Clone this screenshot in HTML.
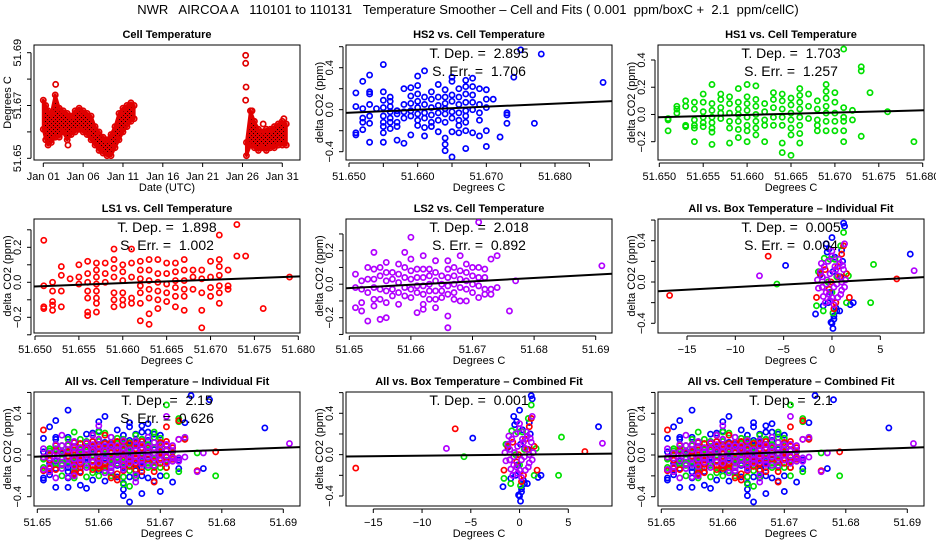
<!DOCTYPE html>
<html><head><meta charset="utf-8"><style>
html,body{margin:0;padding:0;background:#fff;}
svg{display:block;font-family:"Liberation Sans",sans-serif;}
svg text{white-space:pre;}
</style></head><body>
<svg id="chart" width="936" height="540" viewBox="0 0 936 540" xmlns="http://www.w3.org/2000/svg">
<defs>
<pattern id="cellpat" width="4" height="4" patternUnits="userSpaceOnUse">
<rect width="4" height="4" fill="#e00000"/><rect x="1" y="1" width="1" height="1" fill="#000"/><rect x="3" y="3" width="1" height="1" fill="#300"/>
</pattern>
</defs>
<text x="468" y="14" font-size="13" text-anchor="middle">NWR   AIRCOA A   110101 to 110131   Temperature Smoother – Cell and Fits ( 0.001  ppm/boxC +  2.1  ppm/cellC)</text>
</svg>
<script>
// ---- Panel 1: cell temperature time series (band lo/hi by day) ----
const seg1Day=[1.0,1.3,1.6,2.0,2.5,3.0,3.5,4.0,4.5,5.0,5.5,6.0,6.5,7.0,7.5,8.0,8.5,9.0,9.5,10.0,10.5,11.0,11.5,12.0,12.4];
const seg1Lo=[51.661,51.657,51.655,51.656,51.658,51.658,51.660,51.657,51.659,51.660,51.661,51.660,51.659,51.657,51.655,51.653,51.652,51.651,51.651,51.654,51.657,51.660,51.662,51.664,51.665];
const seg1Hi=[51.672,51.670,51.668,51.667,51.674,51.669,51.668,51.667,51.666,51.668,51.669,51.668,51.667,51.666,51.662,51.660,51.658,51.657,51.659,51.662,51.667,51.669,51.670,51.671,51.670];
const seg2Day=[26.5,27.0,27.5,28.0,28.5,29.0,29.5,30.0,30.5,31.0,31.5];
const seg2Lo=[51.651,51.655,51.654,51.653,51.654,51.653,51.654,51.654,51.655,51.655,51.655];
const seg2Hi=[51.656,51.668,51.664,51.661,51.660,51.661,51.661,51.662,51.663,51.664,51.663];
const cellOutDay=[2.55,4.1,26.4,26.4,26.45,26.4,28.6,31.2,27.2];
const cellOutT=[51.678,51.655,51.689,51.686,51.677,51.672,51.663,51.665,51.668];
const dayTicks=[1,6,11,16,21,26,31];
const dayLabels=["Jan 01","Jan 06","Jan 11","Jan 16","Jan 21","Jan 26","Jan 31"];

// ---- Scatter series vs cell temperature: x offset in mK above 51.650, y lists ----
const hs2X=[1,2,3,4,5,6,7,8,9,10,11,12,13,14,15,16,17,18,19,20,21,22,23,24,25,27,28,37];
const hs2Y=[[.16,.03,-.22,-.24],[.27,.01,-.08,-.12,-.19],[.33,.17,.15,.05,-.06,-.13,-.31],[.01],[.43,.17,.09,.02,-.06,-.12,-.16,-.31,-.22],[.12,.08,.03,-.02,-.08,-.12,-.18],[-.01,-.04,-.12,-.16,-.29],[.20,.05,-.02,-.08,-.32],[.21,.13,.06,-.01,-.06,-.24],[.32,.23,.15,.08,.02,-.04,-.10,-.15],[.37,.12,.05,-.03,-.08,-.17,-.25],[.17,.10,.02,-.05,-.12,-.16],[.24,.12,.04,-.03,-.10,-.21],[.19,.12,.06,.01,-.04,-.12,-.27,-.33,-.39],[.31,.27,.14,.08,-.02,-.08,-.21,-.45],[.20,.12,.05,-.03,-.10,-.15,-.22],[.28,.22,.15,.07,-.01,-.06,-.12,-.20,-.37],[.30,.22,.14,.07,0,-.22],[.20,.05,-.03,-.10,-.25],[.19,.10,.02,-.20,-.35],[.10],[-.26],[-.03,-.05,-.13],[.31],[.57],[-.13],[.53],[.26]];
const hs1X=[1,2,3,4,5,6,7,8,9,10,11,12,13,14,15,16,17,18,19,20,21,22,23,24,26,29];
const hs1Y=[[-.03,-.04,-.12],[.06,.04,.01],[.10,.06,-.08,-.09],[.09,.04,-.04,-.08,-.10,-.20],[.15,.09,.02,-.02,-.06,-.09],[.22,.08,.03,-.02,-.06,-.10,-.13,-.22],[.15,.11,.05,.01,-.03],[.13,.08,.01,-.05,-.10,-.21],[.19,.09,.04,0,-.05,-.11,-.17],[.22,.13,.08,.03,-.02,-.08,-.12,-.20],[.21,.11,.06,0,-.05,-.10,-.15],[.08,.02,-.04,-.08,-.20],[.16,.11,.05,-.02,-.08],[.15,.10,.04,-.02,-.08,-.21,-.28],[.12,.07,.01,-.04,-.10,-.15,-.30],[.19,.14,.09,.04,-.02,-.08,-.14,-.21],[.15,.06,-.03],[.10,.04,-.04,-.08,-.12],[.22,.17,.12,.06,.01,-.05,-.12],[.16,.09,.01,-.05,-.12],[.48,.05,-.02,-.05,-.12,-.20],[.03,-.04],[.35,.32,-.16],[.16],[.02],[-.20]];
const ls1X=[1,2,3,4,5,6,7,8,9,10,11,12,13,14,15,16,17,18,19,20,21,22,23,24,26,29];
const ls1Y=[[.24,-.02,-.14,-.15],[0,-.05,-.11,-.13,-.16],[.09,.04,-.05,-.14],[.02],[.10,.03,-.01],[.12,.05,0,-.05,-.09,-.17,-.19],[.11,.07,.03,-.01,-.05,-.09,-.12,-.17],[.11,.05,0],[.19,.13,.08,.03,-.06,-.10,-.14],[.10,.06,.01,-.06,-.10,-.13],[.19,.11,.03,-.09,-.12],[.12,.07,.02,-.02,-.06,-.12,-.22],[.13,.07,.01,-.04,-.09,-.18,-.24],[.13,.05,0,-.05,-.10,-.15],[.11,.05,-.01,-.06,-.11],[.11,.06,.01,-.03,-.08,-.14],[.13,.07,.01,-.04,-.08,-.16],[.07,.03,-.04],[.07,.02,-.06,-.16,-.26],[.12,.03,-.03,-.08],[.27,.13,.09,.04,-.02,-.06,-.12],[.07,-.02,-.04],[.33,.15],[.15],[-.15],[.03]];
const ls2X=[1,2,3,4,5,6,7,8,9,10,11,12,13,14,15,16,17,18,19,20,21,22,23,24,26,27,41];
const ls2Y=[[.06,-.02,-.14],[.02,-.03,-.11,-.16],[.10,.03,-.05,-.22],[.19,.09,.03,-.02,-.09,-.13],[.10,.05,-.03,-.09,-.21],[.13,.07,.02,-.04,-.11,-.20],[.07,.03,-.03,-.07],[.12,.06,.01,-.05,-.12],[.19,.10,.04,-.02,-.07],[.28,.15,.08,.03,-.03,-.08],[.09,.04,-.01,-.05,-.17],[.17,.09,.04,-.01,-.06,-.12,-.15],[.09,.05,0,-.04,-.09],[.14,.07,.02,-.04,-.09,-.14],[.05,0,-.04,-.08],[.14,.09,.04,-.01,-.06,-.19,-.26],[.10,.05,0,-.05,-.09],[.17,.08,.03,-.02,-.10],[.12,.07,.02,-.03,-.10],[.10,.05,0,-.05],[.37,.10,.04,-.01,-.08],[.09,.04,-.03,-.06],[.15,-.03,-.06],[.17,-.02],[-.16],[.02],[.11]];

// ---- Box temperature scatter (degrees C deviation, ppm) ----
const boxBlueX=[-1.7,-1.2,-0.9,-0.5,-0.3,-0.1,0,0.1,0.2,0.3,0.5,0.8,1.0,1.2,1.3,2.2,1.9,-0.6,0,0.2,8.1,-4.8,1.1,0.9,-0.2,0.1,-0.4,0.4];
const boxBlueY=[-.31,.07,-.23,.29,.32,-.39,.43,-.45,-.36,.24,-.28,-.28,.31,.57,.54,-.2,-.22,.37,-.40,-.33,.27,.16,.2,.05,-.1,.1,-.2,-.25];
const boxGreenX=[-5.7,4.3,4.0,-1.6,-1.4,-0.8,-0.2,0.1,0.3,0.9,1.2,1.5,1.7,-0.9,0.5,0,-0.4];
const boxGreenY=[-.02,.17,-.20,-.23,.10,.23,.22,-.30,.22,.35,.48,-.20,.06,-.28,.05,-.1,0];
const boxRedX=[-16.8,-6.6,6.7,-1.6,-1.2,-0.7,-0.3,0.2,0.6,1.0,1.2,1.5,1.8,-0.1,0.4,0.8,-1.0];
const boxRedY=[-.13,.25,.03,-.15,.08,.12,-.07,-.26,.15,.27,.35,.08,-.15,0,-.2,.05,-.05];
const boxPurpleX=[-7.5,8.5,-1.5,-1.2,-1,-0.8,-0.6,-0.4,-0.2,0,0.2,0.4,0.6,0.8,1,1.2,1.4,-1.4,-1.0,-0.6,-0.2,0.2,0.6,1.0,1.3,-0.3,0.3,-0.9,0.9,0,1.3,-0.5,0.5,-1.1,1.1,0,-0.7,0.7];
const boxPurpleY=[.06,.11,.02,.10,-.05,.15,-.10,.20,-.18,.25,-.22,.12,-.15,.18,-.08,.12,.02,-.06,.05,-.02,.08,-.05,.06,0,-.05,-.12,.15,-.14,-.12,.3,.37,.02,-.02,.18,.16,-.15,-.2,.22];

// ---- Fits: slope (ppm per unit x) and value at reference x ----
const fitSlope=[2.895,1.703,1.898,2.018,0.005,2.15,0.001,2.1];
const fitRefX=[51.66,51.665,51.665,51.67,0,51.67,0,51.67];
const fitRefY=[0.0,0.005,0.005,0.017,0.0,0.027,0.0,0.027];
const depLabels=["2.895","1.703","1.898","2.018","0.005","2.15","0.001","2.1"];
const errLabels=["1.706","1.257","1.002","0.892","0.004","0.626","",""];

const NS="http://www.w3.org/2000/svg";
const svg=document.getElementById('chart');
function mk(tag,attrs,parent){const e=document.createElementNS(NS,tag);for(const k in attrs)e.setAttribute(k,attrs[k]);(parent||svg).appendChild(e);return e;}
function lin(v0,p0,v1,p1){return v=>p0+(v-v0)*(p1-p0)/(v1-v0);}
const COL={blue:"#0000ff",green:"#00e000",red:"#ff0000",purple:"#b000ff"};

function axes(g,P,name){
  const box=mk('rect',{x:P.l,y:P.t,width:P.r-P.l,height:P.b-P.t,fill:"none",stroke:"#000","stroke-width":1},g);
  
  
  const xa=mk('g',{},g);
  
  
  const y0=P.b+3;
  mk('line',{x1:P.sx(P.xt[0]),x2:P.sx(P.xt[P.xt.length-1]),y1:y0,y2:y0,stroke:"#000"},xa);
  P.xt.forEach((v,i)=>{const x=P.sx(v);mk('line',{x1:x,x2:x,y1:y0,y2:y0+4,stroke:"#000"},xa);
    const lab=P.xl[i];if(lab){const t=mk('text',{x:x,y:P.b+20,"font-size":11,"text-anchor":"middle"},xa);t.textContent=lab;
      
      }});
  const ya=mk('g',{},g);
  
  
  const x0=P.l-3;
  mk('line',{x1:x0,x2:x0,y1:P.sy(P.yt[0]),y2:P.sy(P.yt[P.yt.length-1]),stroke:"#000"},ya);
  P.yt.forEach((v,i)=>{const y=P.sy(v);mk('line',{x1:x0-4,x2:x0,y1:y,y2:y,stroke:"#000"},ya);
    const lab=P.yl[i];if(lab){const t=mk('text',{x:0,y:0,"font-size":11,"text-anchor":"middle",transform:`translate(${P.l-13},${y}) rotate(-90)`},ya);t.textContent=lab;
      
      }});
  const tt=mk('text',{x:(P.l+P.r)/2,y:P.t-7,"font-size":11,"font-weight":"bold","text-anchor":"middle"},g);tt.textContent=P.title;
  
  
  const xt=mk('text',{x:(P.l+P.r)/2,y:P.b+31,"font-size":11,"text-anchor":"middle"},g);xt.textContent=P.xtitle;
  
  
  const yt=mk('text',{x:0,y:0,"font-size":11,"text-anchor":"middle",transform:`translate(${P.l-23},${(P.t+P.b)/2}) rotate(-90)`},g);yt.textContent=P.ytitle;
  
  
}
function clip(id,P){const c=mk('clipPath',{id:id});mk('rect',{x:P.l,y:P.t,width:P.r-P.l,height:P.b-P.t},c);return `url(#${id})`;}
function dot(g,x,y,color){const c=mk('circle',{cx:x,cy:y,r:2.6,fill:"none",stroke:color,"stroke-width":1.7},g);
  
  }
function colSeries(g,P,xs,ys,color){xs.forEach((o,i)=>ys[i].forEach(v=>dot(g,P.sx(51.65+o*0.001),P.sy(v),color)));}
function flatSeries(g,P,xs,ys,color){xs.forEach((x,i)=>dot(g,P.sx(x),P.sy(ys[i]),color));}
function fit(g,P,k){const xa=P.dom[0],xb=P.dom[1];const f=x=>fitRefY[k]+fitSlope[k]*(x-fitRefX[k]);
  const l=mk('line',{x1:P.sx(xa),y1:P.sy(f(xa)),x2:P.sx(xb),y2:P.sy(f(xb)),stroke:"#000","stroke-width":2},g);
  
  }
function notes(g,P,k){const cx=(P.l+P.r)/2;
  const a=mk('text',{x:cx,y:P.t+13,"font-size":14,"text-anchor":"middle"},g);a.textContent="T. Dep. =  "+depLabels[k];
  
  
  if(errLabels[k]){const b=mk('text',{x:cx,y:P.t+31,"font-size":14,"text-anchor":"middle"},g);b.textContent="S. Err. =  "+errLabels[k];
  
  }}

const cellT=[51.650,51.655,51.660,51.665,51.670,51.675,51.680];
const cellTL=["51.650","51.655","51.660","51.665","51.670","51.675","51.680"];
const cellT2=[51.650,51.655,51.660,51.665,51.670,51.675,51.680,51.685];
const cellT2L=["51.650","","51.660","","51.670","","51.680",""];
const cellT4=[51.65,51.66,51.67,51.68,51.69];
const cellT4L=["51.65","51.66","51.67","51.68","51.69"];
const boxT=[-15,-10,-5,0,5];
const boxTL=["\u221215","\u221210","\u22125","0","5"];
const Y="delta CO2 (ppm)",X="Degrees C";

// Panel 1
(function(){const P={l:34,r:300,t:45,b:160,title:"Cell Temperature",xtitle:"Date (UTC)",ytitle:"Degrees C",
  sx:lin(1,43.3,31,282.3),sy:lin(51.65,158.3,51.69,52.7),xt:dayTicks,xl:dayLabels,
  yt:[51.65,51.66,51.67,51.68,51.69],yl:["51.65","","51.67","","51.69"]};
  const g=mk('g',{});
  
  axes(g,P,'cell-temperature');
  const d=mk('g',{"clip-path":clip('c1',P)},g);
  [[seg1Day,seg1Lo,seg1Hi],[seg2Day,seg2Lo,seg2Hi]].forEach(([D,L,H])=>{
    const pts=D.map((x,i)=>P.sx(x)+","+P.sy(H[i])).concat(D.map((x,i)=>P.sx(x)+","+P.sy(L[i])).reverse());
    const pg=mk('polygon',{points:pts.join(" "),fill:"url(#cellpat)",stroke:"#e00000","stroke-width":3,"stroke-linejoin":"round"},d);
    
    
    D.forEach((x,i)=>{dot(d,P.sx(x),P.sy(L[i]),"#e00000");dot(d,P.sx(x),P.sy(H[i]),"#e00000");});
  });
  flatSeries(d,P,cellOutDay,cellOutT,"#e00000");
})();
// Panel 2 HS2
(function(){const P={l:346,r:612,t:45,b:160,title:"HS2 vs. Cell Temperature",xtitle:X,ytitle:Y,
  sx:lin(51.65,349,51.68,555),sy:lin(0.4,67.7,-0.4,151.7),xt:cellT2,xl:cellT2L,yt:[-0.4,-0.2,0,0.2,0.4,0.6],yl:["\u22120.4","","0.0","","0.4",""]};
  P.dom=[51.6495,51.6885];
  const g=mk('g',{});
  
  axes(g,P,'hs2');const d=mk('g',{"clip-path":clip('c2',P)},g);
  colSeries(d,P,hs2X,hs2Y,COL.blue);fit(d,P,0);notes(g,P,0);})();
// Panel 3 HS1
(function(){const P={l:658,r:924,t:45,b:160,title:"HS1 vs. Cell Temperature",xtitle:X,ytitle:Y,
  sx:lin(51.65,659.3,51.68,922.7),sy:lin(0.4,60,-0.2,141.7),xt:cellT,xl:cellTL,yt:[-0.2,0,0.2,0.4],yl:["\u22120.2","0.0","0.2","0.4"]};
  P.dom=[51.6498,51.6802];
  const g=mk('g',{});
  
  axes(g,P,'hs1');const d=mk('g',{"clip-path":clip('c3',P)},g);
  colSeries(d,P,hs1X,hs1Y,COL.green);fit(d,P,1);notes(g,P,1);})();
// Panel 4 LS1
(function(){const P={l:34,r:300,t:219,b:333,title:"LS1 vs. Cell Temperature",xtitle:X,ytitle:Y,
  sx:lin(51.65,35,51.68,298.3),sy:lin(0.2,247.3,-0.2,317.3),xt:cellT,xl:cellTL,yt:[-0.3,-0.2,-0.1,0,0.1,0.2,0.3],yl:["","\u22120.2","","0.0","","0.2",""]};
  P.dom=[51.6499,51.6802];
  const g=mk('g',{});
  
  axes(g,P,'ls1');const d=mk('g',{"clip-path":clip('c4',P)},g);
  colSeries(d,P,ls1X,ls1Y,COL.red);fit(d,P,2);notes(g,P,2);})();
// Panel 5 LS2
(function(){const P={l:346,r:612,t:219,b:333,title:"LS2 vs. Cell Temperature",xtitle:X,ytitle:Y,
  sx:lin(51.65,349.3,51.69,595.7),sy:lin(0.2,250.7,-0.2,317.7),xt:cellT4,xl:cellT4L,yt:[-0.3,-0.2,-0.1,0,0.1,0.2,0.3],yl:["","\u22120.2","","0.0","","0.2",""]};
  P.dom=[51.6494,51.6927];
  const g=mk('g',{});
  
  axes(g,P,'ls2');const d=mk('g',{"clip-path":clip('c5',P)},g);
  colSeries(d,P,ls2X,ls2Y,COL.purple);fit(d,P,3);notes(g,P,3);})();
function boxPanel(P,k,name,cid){
  P.dom=[-18,9.5];
  const g=mk('g',{});
  
  axes(g,P,name);const d=mk('g',{"clip-path":clip(cid,P)},g);
  flatSeries(d,P,boxBlueX,boxBlueY,COL.blue);flatSeries(d,P,boxGreenX,boxGreenY,COL.green);
  flatSeries(d,P,boxRedX,boxRedY,COL.red);flatSeries(d,P,boxPurpleX,boxPurpleY,COL.purple);
  fit(d,P,k);notes(g,P,k);}
function allCell(P,k,name,cid){
  P.dom=[51.6494,51.6927];
  const g=mk('g',{});
  
  axes(g,P,name);const d=mk('g',{"clip-path":clip(cid,P)},g);
  colSeries(d,P,hs2X,hs2Y,COL.blue);colSeries(d,P,hs1X,hs1Y,COL.green);
  colSeries(d,P,ls1X,ls1Y,COL.red);colSeries(d,P,ls2X,ls2Y,COL.purple);
  fit(d,P,k);notes(g,P,k);}
const yt8=[-0.4,-0.2,0,0.2,0.4,0.6],yl8=["\u22120.4","","0.0","","0.4",""];
boxPanel({l:658,r:924,t:219,b:333,title:"All vs. Box Temperature \u2013 Individual Fit",xtitle:X,ytitle:Y,
  sx:lin(-15,687,5,880.3),sy:lin(0.4,240.7,-0.4,323.3),xt:boxT,xl:boxTL,yt:yt8,yl:yl8},4,'all-box-individual','c6');
allCell({l:34,r:300,t:392,b:506,title:"All vs. Cell Temperature \u2013 Individual Fit",xtitle:X,ytitle:Y,
  sx:lin(51.65,37.3,51.69,283.3),sy:lin(0.4,413.3,-0.4,496.7),xt:cellT4,xl:cellT4L,yt:yt8,yl:yl8},5,'all-cell-individual','c7');
boxPanel({l:346,r:612,t:392,b:506,title:"All vs. Box Temperature \u2013 Combined Fit",xtitle:X,ytitle:Y,
  sx:lin(-15,373.3,5,568.3),sy:lin(0.4,413.3,-0.4,496),xt:boxT,xl:boxTL,yt:yt8,yl:yl8},6,'all-box-combined','c8');
allCell({l:658,r:924,t:392,b:506,title:"All vs. Cell Temperature \u2013 Combined Fit",xtitle:X,ytitle:Y,
  sx:lin(51.65,661.3,51.69,907.3),sy:lin(0.4,413.3,-0.4,496.7),xt:cellT4,xl:cellT4L,yt:yt8,yl:yl8},7,'all-cell-combined','c9');
</script>
</body></html>
